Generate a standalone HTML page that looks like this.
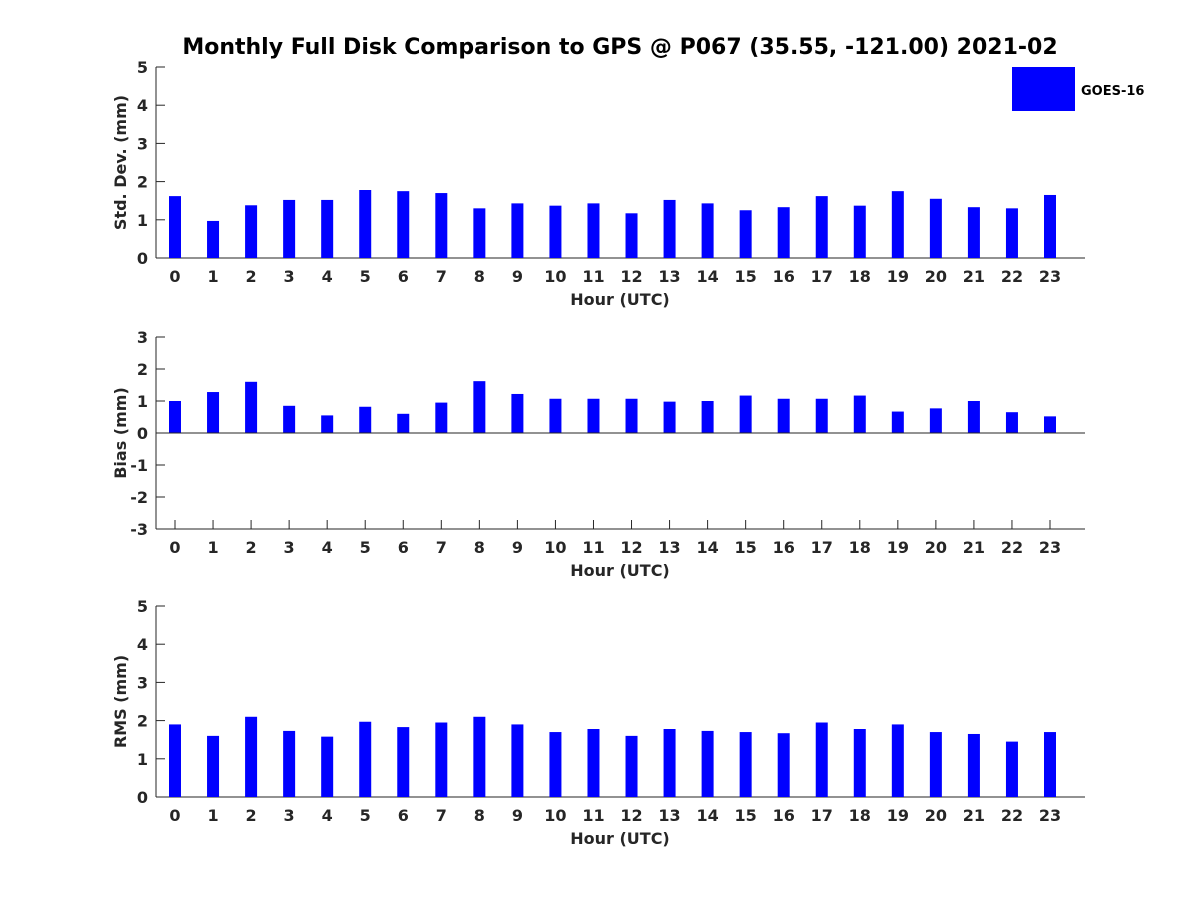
<!DOCTYPE html>
<html><head><meta charset="utf-8"><style>
body{margin:0;background:#fff;}
svg{display:block;font-family:"DejaVu Sans","Liberation Sans",sans-serif;}
text{fill:#262626;font-weight:bold;}
</style></head><body>
<svg id="c" width="1200" height="900">
<text x="620" y="54" text-anchor="middle" font-size="22" style="fill:#000">Monthly Full Disk Comparison to GPS @ P067 (35.55, -121.00) 2021-02</text>
<rect x="1012" y="67" width="63" height="44" fill="#0000ff"/>
<text x="1081" y="95" font-size="13" style="fill:#000">GOES-16</text>
</svg>
<script>
const hours=[0,1,2,3,4,5,6,7,8,9,10,11,12,13,14,15,16,17,18,19,20,21,22,23];
const stdDev=[1.62,0.97,1.38,1.52,1.52,1.78,1.75,1.7,1.3,1.43,1.37,1.43,1.17,1.52,1.43,1.25,1.33,1.62,1.37,1.75,1.55,1.33,1.3,1.65];
const bias=[1.0,1.28,1.6,0.85,0.55,0.82,0.6,0.95,1.62,1.22,1.07,1.07,1.07,0.98,1.0,1.17,1.07,1.07,1.17,0.67,0.77,1.0,0.65,0.52];
const rms=[1.9,1.6,2.1,1.73,1.58,1.97,1.83,1.95,2.1,1.9,1.7,1.78,1.6,1.78,1.73,1.7,1.67,1.95,1.78,1.9,1.7,1.65,1.45,1.7];
const stdTicks=[0,1,2,3,4,5];
const biasTicks=[-3,-2,-1,0,1,2,3];
const rmsTicks=[0,1,2,3,4,5];
const svg=document.getElementById('c');
const NS='http://www.w3.org/2000/svg';
function mk(t,a){const e=document.createElementNS(NS,t);for(const k in a)e.setAttribute(k,a[k]);svg.appendChild(e);return e;}
const xL=156,xR=1085;
function xs(h){return 175+h*(1050-175)/23;}
function panel(key,vals,ticks,yTop,yBot,label){
  const mn=ticks[0],mx=ticks[ticks.length-1];
  const ys=v=>yBot-(v-mn)/(mx-mn)*(yBot-yTop);
  let ax=mk('line',{x1:xL,y1:yTop,x2:xL,y2:yBot,stroke:'#262626','stroke-width':1});
  
  
  let bx=mk('line',{x1:xL,y1:yBot,x2:xR,y2:yBot,stroke:'#262626','stroke-width':1});
  
  
  ticks.forEach(t=>{
    mk('line',{x1:xL,y1:ys(t),x2:xL+9,y2:ys(t),stroke:'#262626'});
    let tx=mk('text',{x:xL-8,y:ys(t)+6,'text-anchor':'end','font-size':16});
    tx.textContent=t;
    
    
  });
  const base=ys(Math.max(mn,0));
  hours.forEach((h,i)=>{
    mk('line',{x1:xs(h),y1:yBot,x2:xs(h),y2:yBot-9,stroke:'#262626'});
    let tx=mk('text',{x:xs(h),y:yBot+24,'text-anchor':'middle','font-size':16});
    tx.textContent=h;
    
    
    const y=ys(vals[i]);
    let r=mk('rect',{x:xs(h)-6,y:Math.min(y,base),width:12,height:Math.abs(base-y),fill:'#0000ff'});
    
    
  });
  if(mn<0){mk('line',{x1:xL,y1:base,x2:xR,y2:base,stroke:'#262626'});}
  let xt=mk('text',{x:620,y:yBot+47,'text-anchor':'middle','font-size':16});
  xt.textContent='Hour (UTC)';
  
  
  const cy=(yTop+yBot)/2;
  let yt=mk('text',{x:126,y:cy,'text-anchor':'middle','font-size':16,transform:'rotate(-90 126 '+cy+')'});
  yt.textContent=label;
  
  
}
panel('std-dev',stdDev,stdTicks,67,258,'Std. Dev. (mm)');
panel('bias',bias,biasTicks,337,529,'Bias (mm)');
panel('rms',rms,rmsTicks,606,797,'RMS (mm)');
</script>
</body></html>
